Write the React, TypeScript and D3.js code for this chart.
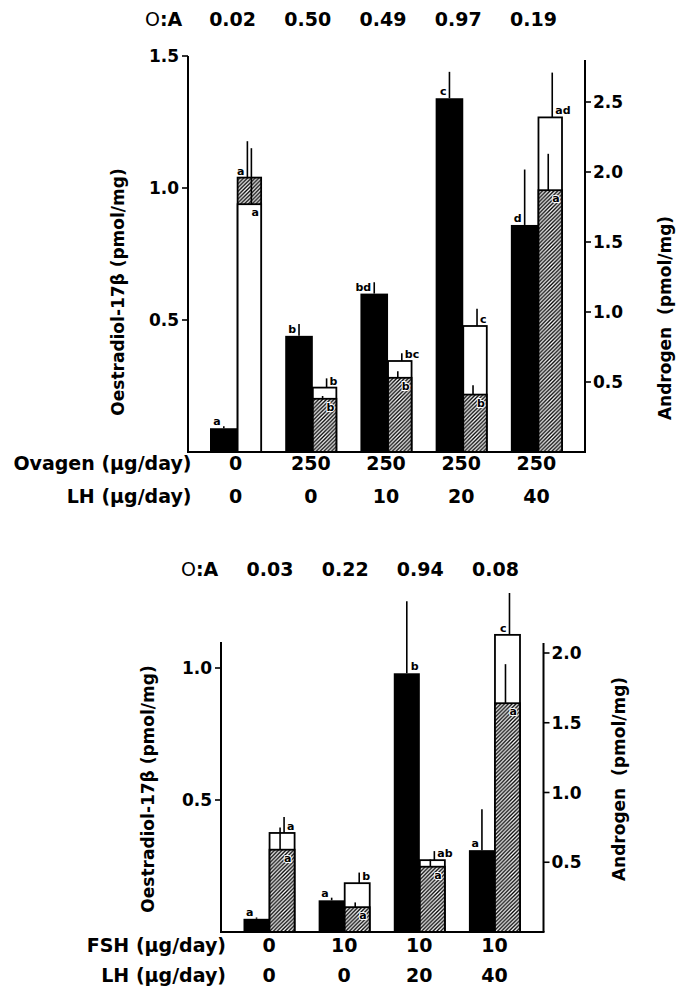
import React from "react";
import * as d3 from "d3";

// ---------- DATA ----------
const topOvagen = ["0", "250", "250", "250", "250"];
const topLH = ["0", "0", "10", "20", "40"];
const topRatio = ["0.02", "0.50", "0.49", "0.97", "0.19"];
const topOestradiol = [0.09, 0.44, 0.6, 1.34, 0.86];
const topOestradiolErr = [0.008, 0.045, 0.043, 0.1, 0.21];
const topOestradiolSig = ["a", "b", "bd", "c", "d"];
const topAndroHatched = [1.96, 0.38, 0.53, 0.41, 1.87];
const topAndroHatchedErr = [0.26, 0.02, 0.047, 0.066, 0.26];
const topAndroHatchedSig = ["a", "b", "b", "b", "a"];
const topAndroOpen = [1.77, 0.46, 0.65, 0.9, 2.39];
const topAndroOpenErr = [0.4, 0.066, 0.055, 0.124, 0.32];
const topAndroOpenSig = ["a", "b", "bc", "c", "ad"];
const topLeftTicks = [0.5, 1.0, 1.5];
const topRightTicks = [0.5, 1.0, 1.5, 2.0, 2.5];

const bottomFSH = ["0", "10", "10", "10"];
const bottomLH = ["0", "0", "20", "40"];
const bottomRatio = ["0.03", "0.22", "0.94", "0.08"];
const bottomOestradiol = [0.05, 0.12, 0.98, 0.31];
const bottomOestradiolErr = [0.005, 0.01, 0.273, 0.155];
const bottomOestradiolSig = ["a", "a", "b", "a"];
const bottomAndroHatched = [0.59, 0.178, 0.468, 1.64];
const bottomAndroHatchedErr = [0.16, 0.034, 0.052, 0.28];
const bottomAndroHatchedSig = ["a", "a", "a", "a"];
const bottomAndroOpen = [0.71, 0.35, 0.515, 2.13];
const bottomAndroOpenErr = [0.115, 0.076, 0.065, 0.3];
const bottomAndroOpenSig = ["a", "b", "ab", "c"];
const bottomLeftTicks = [0.5, 1.0];
const bottomRightTicks = [0.5, 1.0, 1.5, 2.0];

const FONT = "'DejaVu Sans', 'Liberation Sans', sans-serif";

type PanelData = {
  row1Label: string;
  row1: string[];
  row2: string[];
  ratio: string[];
  oest: number[];
  oestErr: number[];
  oestSig: string[];
  hat: number[];
  hatErr: number[];
  hatSig: string[];
  open: number[];
  openErr: number[];
  openSig: string[];
  leftTicks: number[];
  rightTicks: number[];
};

type PanelCfg = {
  axisL: number;
  axisR: number;
  baseline: number;
  leftDomain: [number, number];
  leftTopY: number;
  rightDomain: [number, number];
  rightTopY: number;
  leftAxisTop: number;
  rightAxisTop: number;
  bandRange: [number, number];
  blackFrac: number;
  oaY: number;
  oaX: number;
  oaShift: number;
  rowRight: number;
  rowY: [number, number];
  leftTitle: [number, number];
  rightTitle: [number, number];
  blackLabelRight: Set<number>;
  openLabelLeft: Set<number>;
};

function Panel({ cfg, d, id }: { cfg: PanelCfg; d: PanelData; id: string }) {
  const n = d.oest.length;
  const band = d3
    .scaleBand<number>()
    .domain(d3.range(n))
    .range(cfg.bandRange)
    .paddingInner(0.32)
    .paddingOuter(0);
  const yL = d3.scaleLinear().domain(cfg.leftDomain).range([cfg.baseline, cfg.leftTopY]);
  const yR = d3.scaleLinear().domain(cfg.rightDomain).range([cfg.baseline, cfg.rightTopY]);
  const bw = band.bandwidth();
  const blackW = bw * cfg.blackFrac;
  const openW = bw - blackW;
  const patId = `hatch-${id}`;
  const sigStyle = { fontFamily: FONT, fontWeight: 700, fontSize: 11 } as const;

  return (
    <g>
      <defs>
        <pattern id={patId} patternUnits="userSpaceOnUse" width={3.8} height={3.8}>
          <rect width={3.8} height={3.8} fill="#fff" />
          <path
            d="M-1,1 L1,-1 M0,3.8 L3.8,0 M2.8,4.8 L4.8,2.8"
            stroke="#000"
            strokeWidth={1.35}
          />
        </pattern>
      </defs>

      {/* O:A row */}
      <text x={cfg.oaX} y={cfg.oaY} fontFamily={FONT} fontSize={19} fill="#000">
        <tspan fontWeight={400}>O</tspan>
        <tspan fontWeight={700}>:A</tspan>
      </text>
      {d.ratio.map((r, i) => (
        <text
          key={"r" + i}
          x={(band(i) as number) + bw / 2 + cfg.oaShift}
          y={cfg.oaY}
          textAnchor="middle"
          fontFamily={FONT}
          fontWeight={700}
          fontSize={19}
        >
          {r}
        </text>
      ))}

      {/* bars */}
      {d.oest.map((v, i) => {
        const x0 = band(i) as number;
        const cxB = x0 + blackW / 2;
        const cxW = x0 + blackW + openW / 2;
        const hatErrX = cxW - 2;
        const openErrX = cxW + 2;
        const yTopB = yL(v);
        const hatTop = yR(d.hat[i]);
        const openTop = yR(d.open[i]);
        const hatTaller = d.hat[i] > d.open[i];
        const hatRect = (
          <rect
            key="h"
            x={x0 + blackW}
            y={hatTop}
            width={openW}
            height={cfg.baseline - hatTop}
            fill={`url(#${patId})`}
            stroke="#000"
            strokeWidth={1.8}
          />
        );
        const openRect = (
          <rect
            key="o"
            x={x0 + blackW}
            y={openTop}
            width={openW}
            height={cfg.baseline - openTop}
            fill="#fff"
            stroke="#000"
            strokeWidth={1.8}
          />
        );
        const blackRight = cfg.blackLabelRight.has(i);
        const openLeft = cfg.openLabelLeft.has(i);
        const tallTop = hatTaller ? hatTop : openTop;
        const shortTop = hatTaller ? openTop : hatTop;
        const tallSig = hatTaller ? d.hatSig[i] : d.openSig[i];
        const shortSig = hatTaller ? d.openSig[i] : d.hatSig[i];
        const tallErrX = hatTaller ? hatErrX : openErrX;
        const tallLeft = hatTaller || openLeft;
        return (
          <g key={"g" + i}>
            <rect x={x0} y={yTopB} width={blackW} height={cfg.baseline - yTopB} fill="#000" />
            <line
              x1={cxB}
              x2={cxB}
              y1={yTopB}
              y2={yL(v + d.oestErr[i])}
              stroke="#000"
              strokeWidth={1.6}
            />
            <text
              x={blackRight ? cxB + 4 : cxB - 3}
              y={yTopB - 3}
              textAnchor={blackRight ? "start" : "end"}
              {...sigStyle}
            >
              {d.oestSig[i]}
            </text>
            {hatTaller ? [hatRect, openRect] : [openRect, hatRect]}
            <line
              x1={hatErrX}
              x2={hatErrX}
              y1={hatTop}
              y2={yR(d.hat[i] + d.hatErr[i])}
              stroke="#000"
              strokeWidth={1.6}
            />
            <line
              x1={openErrX}
              x2={openErrX}
              y1={openTop}
              y2={yR(d.open[i] + d.openErr[i])}
              stroke="#000"
              strokeWidth={1.6}
            />
            <text
              x={tallLeft ? tallErrX - 3 : tallErrX + 3}
              y={tallTop - 3}
              textAnchor={tallLeft ? "end" : "start"}
              {...sigStyle}
            >
              {tallSig}
            </text>
            <text
              x={cxW + 2}
              y={shortTop + 12}
              textAnchor="start"
              stroke="#fff"
              strokeWidth={2}
              paintOrder="stroke"
              {...sigStyle}
            >
              {shortSig}
            </text>
          </g>
        );
      })}

      {/* axes */}
      <line x1={cfg.axisL} x2={cfg.axisL} y1={cfg.leftAxisTop} y2={cfg.baseline} stroke="#000" strokeWidth={2} />
      <line x1={cfg.axisR} x2={cfg.axisR} y1={cfg.rightAxisTop} y2={cfg.baseline} stroke="#000" strokeWidth={2} />
      <line x1={cfg.axisL - 1} x2={cfg.axisR + 1} y1={cfg.baseline} y2={cfg.baseline} stroke="#000" strokeWidth={2} />
      {d.leftTicks.map((t) => (
        <g key={"lt" + t}>
          <line x1={cfg.axisL - 6} x2={cfg.axisL} y1={yL(t)} y2={yL(t)} stroke="#000" strokeWidth={1.6} />
          <text
            x={cfg.axisL - 9}
            y={yL(t)}
            dy="0.36em"
            textAnchor="end"
            fontFamily={FONT}
            fontWeight={700}
            fontSize={17}
          >
            {d3.format(".1f")(t)}
          </text>
        </g>
      ))}
      {d.rightTicks.map((t) => (
        <g key={"rt" + t}>
          <line x1={cfg.axisR} x2={cfg.axisR + 6} y1={yR(t)} y2={yR(t)} stroke="#000" strokeWidth={1.6} />
          <text
            x={cfg.axisR + 8}
            y={yR(t)}
            dy="0.36em"
            textAnchor="start"
            fontFamily={FONT}
            fontWeight={700}
            fontSize={17}
          >
            {d3.format(".1f")(t)}
          </text>
        </g>
      ))}

      {/* axis titles */}
      <text
        transform={`translate(${cfg.leftTitle[0]},${cfg.leftTitle[1]}) rotate(-90)`}
        textAnchor="middle"
        dominantBaseline="central"
        fontFamily={FONT}
        fontWeight={700}
        fontSize={17}
      >
        Oestradiol-17β (pmol/mg)
      </text>
      <text
        transform={`translate(${cfg.rightTitle[0]},${cfg.rightTitle[1]}) rotate(-90)`}
        textAnchor="middle"
        dominantBaseline="central"
        fontFamily={FONT}
        fontWeight={700}
        fontSize={17}
        style={{ whiteSpace: "pre" }}
      >
        {"Androgen  (pmol/mg)"}
      </text>

      {/* treatment rows */}
      <text x={cfg.rowRight} y={cfg.rowY[0]} textAnchor="end" fontFamily={FONT} fontWeight={700} fontSize={19}>
        {d.row1Label}
      </text>
      <text x={cfg.rowRight} y={cfg.rowY[1]} textAnchor="end" fontFamily={FONT} fontWeight={700} fontSize={19}>
        LH (μg/day)
      </text>
      {d.row1.map((s, i) => (
        <text
          key={"a" + i}
          x={(band(i) as number) + bw / 2}
          y={cfg.rowY[0]}
          textAnchor="middle"
          fontFamily={FONT}
          fontWeight={700}
          fontSize={19}
        >
          {s}
        </text>
      ))}
      {d.row2.map((s, i) => (
        <text
          key={"b" + i}
          x={(band(i) as number) + bw / 2}
          y={cfg.rowY[1]}
          textAnchor="middle"
          fontFamily={FONT}
          fontWeight={700}
          fontSize={19}
        >
          {s}
        </text>
      ))}
    </g>
  );
}

const topData: PanelData = {
  row1Label: "Ovagen (μg/day)",
  row1: topOvagen,
  row2: topLH,
  ratio: topRatio,
  oest: topOestradiol,
  oestErr: topOestradiolErr,
  oestSig: topOestradiolSig,
  hat: topAndroHatched,
  hatErr: topAndroHatchedErr,
  hatSig: topAndroHatchedSig,
  open: topAndroOpen,
  openErr: topAndroOpenErr,
  openSig: topAndroOpenSig,
  leftTicks: topLeftTicks,
  rightTicks: topRightTicks,
};

const bottomData: PanelData = {
  row1Label: "FSH (μg/day)",
  row1: bottomFSH,
  row2: bottomLH,
  ratio: bottomRatio,
  oest: bottomOestradiol,
  oestErr: bottomOestradiolErr,
  oestSig: bottomOestradiolSig,
  hat: bottomAndroHatched,
  hatErr: bottomAndroHatchedErr,
  hatSig: bottomAndroHatchedSig,
  open: bottomAndroOpen,
  openErr: bottomAndroOpenErr,
  openSig: bottomAndroOpenSig,
  leftTicks: bottomLeftTicks,
  rightTicks: bottomRightTicks,
};

const topCfg: PanelCfg = {
  axisL: 188,
  axisR: 585,
  baseline: 452,
  leftDomain: [0, 1.5],
  leftTopY: 56,
  rightDomain: [0, 2.5],
  rightTopY: 102,
  leftAxisTop: 56,
  rightAxisTop: 60,
  bandRange: [210, 562],
  blackFrac: 0.54,
  oaY: 26,
  oaX: 145,
  oaShift: -3,
  rowRight: 191.5,
  rowY: [470, 503],
  leftTitle: [118, 292],
  rightTitle: [665, 318],
  blackLabelRight: new Set<number>(),
  openLabelLeft: new Set<number>(),
};

const bottomCfg: PanelCfg = {
  axisL: 221,
  axisR: 543.5,
  baseline: 932,
  leftDomain: [0, 1],
  leftTopY: 668,
  rightDomain: [0, 2],
  rightTopY: 653,
  leftAxisTop: 642,
  rightAxisTop: 643,
  bandRange: [243.5, 520],
  blackFrac: 0.51,
  oaY: 576,
  oaX: 181,
  oaShift: 1,
  rowRight: 226,
  rowY: [952, 982],
  leftTitle: [148, 789],
  rightTitle: [619, 779],
  blackLabelRight: new Set<number>([2]),
  openLabelLeft: new Set<number>([3]),
};

export default function App() {
  return (
    <svg
      width={677}
      height={991}
      viewBox="0 0 677 991"
      style={{ position: "absolute", left: 0, top: 0, background: "#fff" }}
    >
      <rect width={677} height={991} fill="#fff" />
      <Panel cfg={topCfg} d={topData} id="top" />
      <Panel cfg={bottomCfg} d={bottomData} id="bottom" />
    </svg>
  );
}
